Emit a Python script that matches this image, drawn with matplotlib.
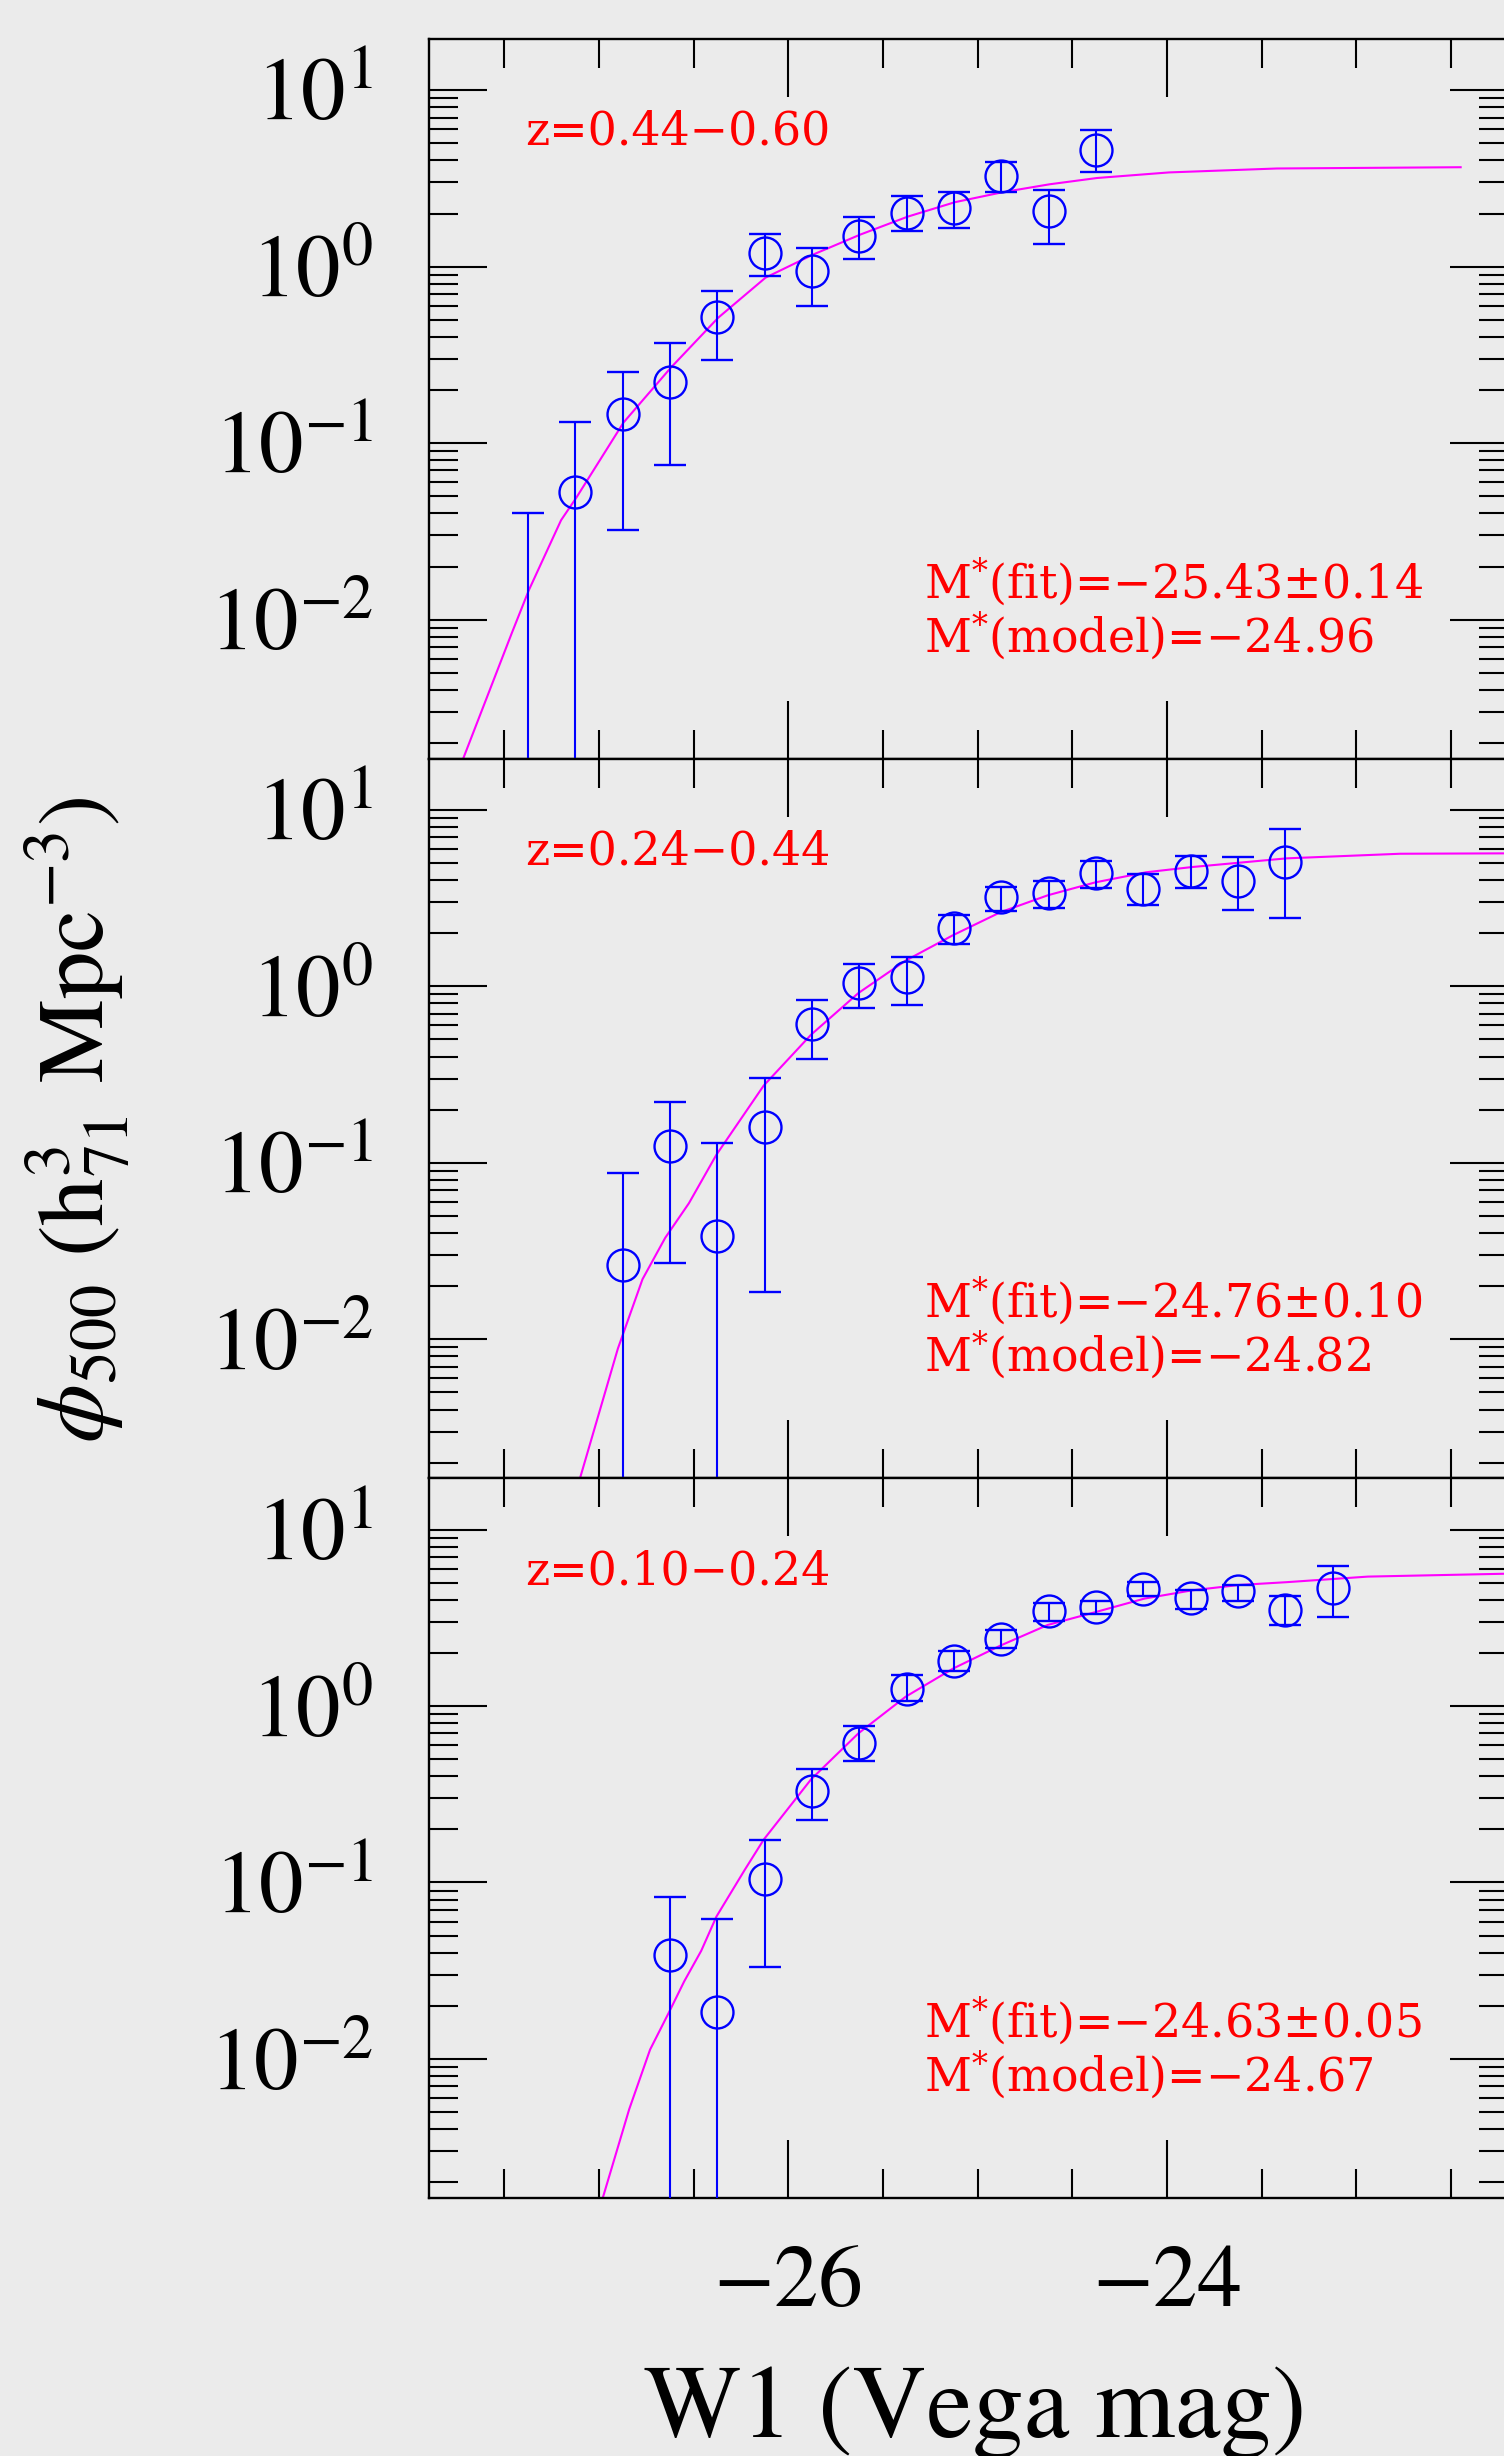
"""Cluster W1 luminosity functions in three redshift slices (phi_500 vs W1)."""
import numpy as np
import matplotlib
matplotlib.use("Agg")
import matplotlib.pyplot as plt
from matplotlib.ticker import MultipleLocator, LogLocator, FuncFormatter, NullFormatter

# --- data ---------------------------------------------------------------
# magnitude bins (Vega) for each slice
mag_hi = [-27.375, -27.125, -26.875, -26.625, -26.375, -26.125, -25.875,
          -25.625, -25.375, -25.125, -24.875, -24.625, -24.375]
phi_hi = [0.001, 0.053, 0.146, 0.223, 0.52, 1.19, 0.94, 1.50, 2.02, 2.14,
          3.25, 2.07, 4.6]
up_hi = [0.040, 0.132, 0.252, 0.368, 0.73, 1.54, 1.28, 1.90, 2.50, 2.66,
         3.93, 2.72, 5.93]
lo_hi = [1e-5, 1e-5, 0.032, 0.075, 0.295, 0.88, 0.60, 1.10, 1.60, 1.66,
         2.64, 1.35, 3.45]

mag_mid = [-26.875, -26.625, -26.375, -26.125, -25.875, -25.625, -25.375,
           -25.125, -24.875, -24.625, -24.375, -24.125, -23.875, -23.625,
           -23.375]
phi_mid = [0.0265, 0.125, 0.0385, 0.160, 0.611, 1.045, 1.13, 2.15, 3.20,
           3.38, 4.38, 3.55, 4.51, 3.93, 5.09]
up_mid = [0.0873, 0.222, 0.129, 0.302, 0.841, 1.34, 1.46, 2.55, 3.64, 3.93,
          5.1, 4.33, 5.47, 5.38, 7.76]
lo_mid = [1e-5, 0.0272, 1e-5, 0.0186, 0.385, 0.755, 0.787, 1.73, 2.67, 2.79,
          3.6, 2.88, 3.61, 2.70, 2.43]

mag_lo = [-26.625, -26.375, -26.125, -25.875, -25.625, -25.375, -25.125,
          -24.875, -24.625, -24.375, -24.125, -23.875, -23.625, -23.375,
          -23.125]
phi_lo = [0.039, 0.0184, 0.1045, 0.33, 0.621, 1.25, 1.81, 2.40, 3.45, 3.66,
          4.63, 4.08, 4.47, 3.51, 4.66]
up_lo = [0.0827, 0.0623, 0.173, 0.438, 0.766, 1.50, 2.04, 2.71, 3.85, 3.96,
         5.04, 4.57, 4.86, 4.20, 6.22]
lo_lo = [1e-5, 1e-5, 0.0333, 0.227, 0.491, 1.07, 1.58, 2.13, 3.05, 3.34,
         4.2, 3.55, 3.96, 2.88, 3.19]

# fitted Schechter curves (traced)
cm_hi = [-27.73, -27.46, -27.37, -27.2, -27.12, -26.87, -26.62, -26.37,
         -26.12, -25.87, -25.62, -25.37, -25.12, -24.87, -24.62, -24.37,
         -23.99, -23.42, -22.45]
cp_hi = [0.0015, 0.0084, 0.0147, 0.0366, 0.049, 0.131, 0.268, 0.514, 0.867,
         1.17, 1.52, 1.92, 2.32, 2.64, 2.93, 3.18, 3.42, 3.60, 3.66]
cm_mid = [-27.11, -26.90, -26.77, -26.65, -26.525, -26.38, -26.13, -25.88,
          -25.63, -25.38, -25.13, -24.88, -24.63, -24.38, -24.11, -23.87,
          -23.37, -22.77, -22.0]
cp_mid = [0.0015, 0.00886, 0.0219, 0.0376, 0.059, 0.111, 0.274, 0.532, 0.916,
          1.40, 1.95, 2.63, 3.28, 3.88, 4.43, 4.74, 5.31, 5.64, 5.68]
cm_lo = [-26.99, -26.84, -26.73, -26.63, -26.55, -26.46, -26.38, -26.23,
         -26.13, -25.88, -25.63, -25.38, -25.13, -24.88, -24.63, -24.38,
         -24.12, -23.87, -23.62, -23.37, -22.94, -22.0]
cp_lo = [0.0015, 0.0052, 0.0113, 0.0184, 0.0275, 0.041, 0.064, 0.118, 0.175,
         0.384, 0.70, 1.13, 1.63, 2.20, 2.88, 3.40, 4.06, 4.52, 4.85, 5.03,
         5.41, 5.68]

z_labels = ["z=0.44\u22120.60", "z=0.24\u22120.44", "z=0.10\u22120.24"]
fit_labels = ["M$^{*}$(fit)=\u221225.43\u00b10.14",
              "M$^{*}$(fit)=\u221224.76\u00b10.10",
              "M$^{*}$(fit)=\u221224.63\u00b10.05"]
model_labels = ["M$^{*}$(model)=\u221224.96",
                "M$^{*}$(model)=\u221224.82",
                "M$^{*}$(model)=\u221224.67"]

panels = [
    (mag_hi, phi_hi, up_hi, lo_hi, cm_hi, cp_hi),
    (mag_mid, phi_mid, up_mid, lo_mid, cm_mid, cp_mid),
    (mag_lo, phi_lo, up_lo, lo_lo, cm_lo, cp_lo),
]

# --- style ---------------------------------------------------------------
BG = "#ebebeb"
plt.rcParams.update({
    "font.family": "STIXGeneral",
    "mathtext.fontset": "stix",
    "axes.linewidth": 1.7,
})

W, H = 1504, 2456
fig = plt.figure(figsize=(W / 100, H / 100), dpi=100, facecolor=BG)

left_px, right_px = 428.5, 1508.0
top_px, bot_px = 39.0, 2198.0
ph = (bot_px - top_px) / 3

for i, (m, phi, up, lo, cm, cp) in enumerate(panels):
    y0 = top_px + i * ph
    ax = fig.add_axes([left_px / W, 1 - (y0 + ph) / H,
                       (right_px - left_px) / W, ph / H])
    ax.set_facecolor(BG)
    phi = np.array(phi)
    yerr = [phi - np.array(lo), np.array(up) - phi]

    ax.plot(cm, cp, color="#ff00ff", lw=1.5, zorder=2)
    ax.errorbar(m, phi, yerr=yerr, fmt="o", mfc="none", mec="#0000ff",
                ms=23, mew=1.7, ecolor="#0000ff", elinewidth=1.5,
                capsize=11.5, capthick=1.5, zorder=3)

    ax.set_yscale("log")
    ax.set_xlim(-27.9, -22.2)
    ax.set_ylim(0.00163, 19.5)

    ax.xaxis.set_major_locator(MultipleLocator(2))
    ax.xaxis.set_minor_locator(MultipleLocator(0.5))
    ax.yaxis.set_major_locator(LogLocator(base=10, numticks=20))
    ax.yaxis.set_minor_locator(LogLocator(base=10, subs=np.arange(2, 10),
                                          numticks=20))
    ax.yaxis.set_minor_formatter(NullFormatter())
    ax.yaxis.set_major_formatter(
        FuncFormatter(lambda v, p: r"$10^{%d}$" % round(np.log10(v))))
    ax.xaxis.set_major_formatter(
        FuncFormatter(lambda v, p: "\u2212%d" % abs(round(v))))

    ax.tick_params(which="both", direction="in", top=True, right=True,
                   width=1.5, color="black")
    ax.tick_params(which="major", length=42)
    ax.tick_params(which="minor", length=21)
    ax.tick_params(axis="y", which="major", labelsize=64, pad=40)
    ax.tick_params(axis="x", which="major", labelsize=64, pad=34)
    if i < 2:
        ax.tick_params(axis="x", labelbottom=False)

    txt = dict(color="red", family="DejaVu Serif", fontsize=33,
               math_fontfamily="dejavuserif", transform=ax.transAxes,
               va="baseline", ha="left")
    ax.text(0.0898, 0.853, z_labels[i], **txt)
    ax.text(0.459, 0.224, fit_labels[i], **txt)
    ax.text(0.459, 0.149, model_labels[i], **txt)

fig.text(78 / W, 1 - 1120 / H,
         r"$\phi_{500}$ (h$^{3}_{71}$ Mpc$^{-3}$)",
         rotation=90, ha="center", va="center", fontsize=68)
fig.text(975 / W, 1 - 2437 / H, "W1 (Vega mag)",
         ha="center", va="baseline", fontsize=74)

fig.savefig("out.png", dpi=100, facecolor=BG)
